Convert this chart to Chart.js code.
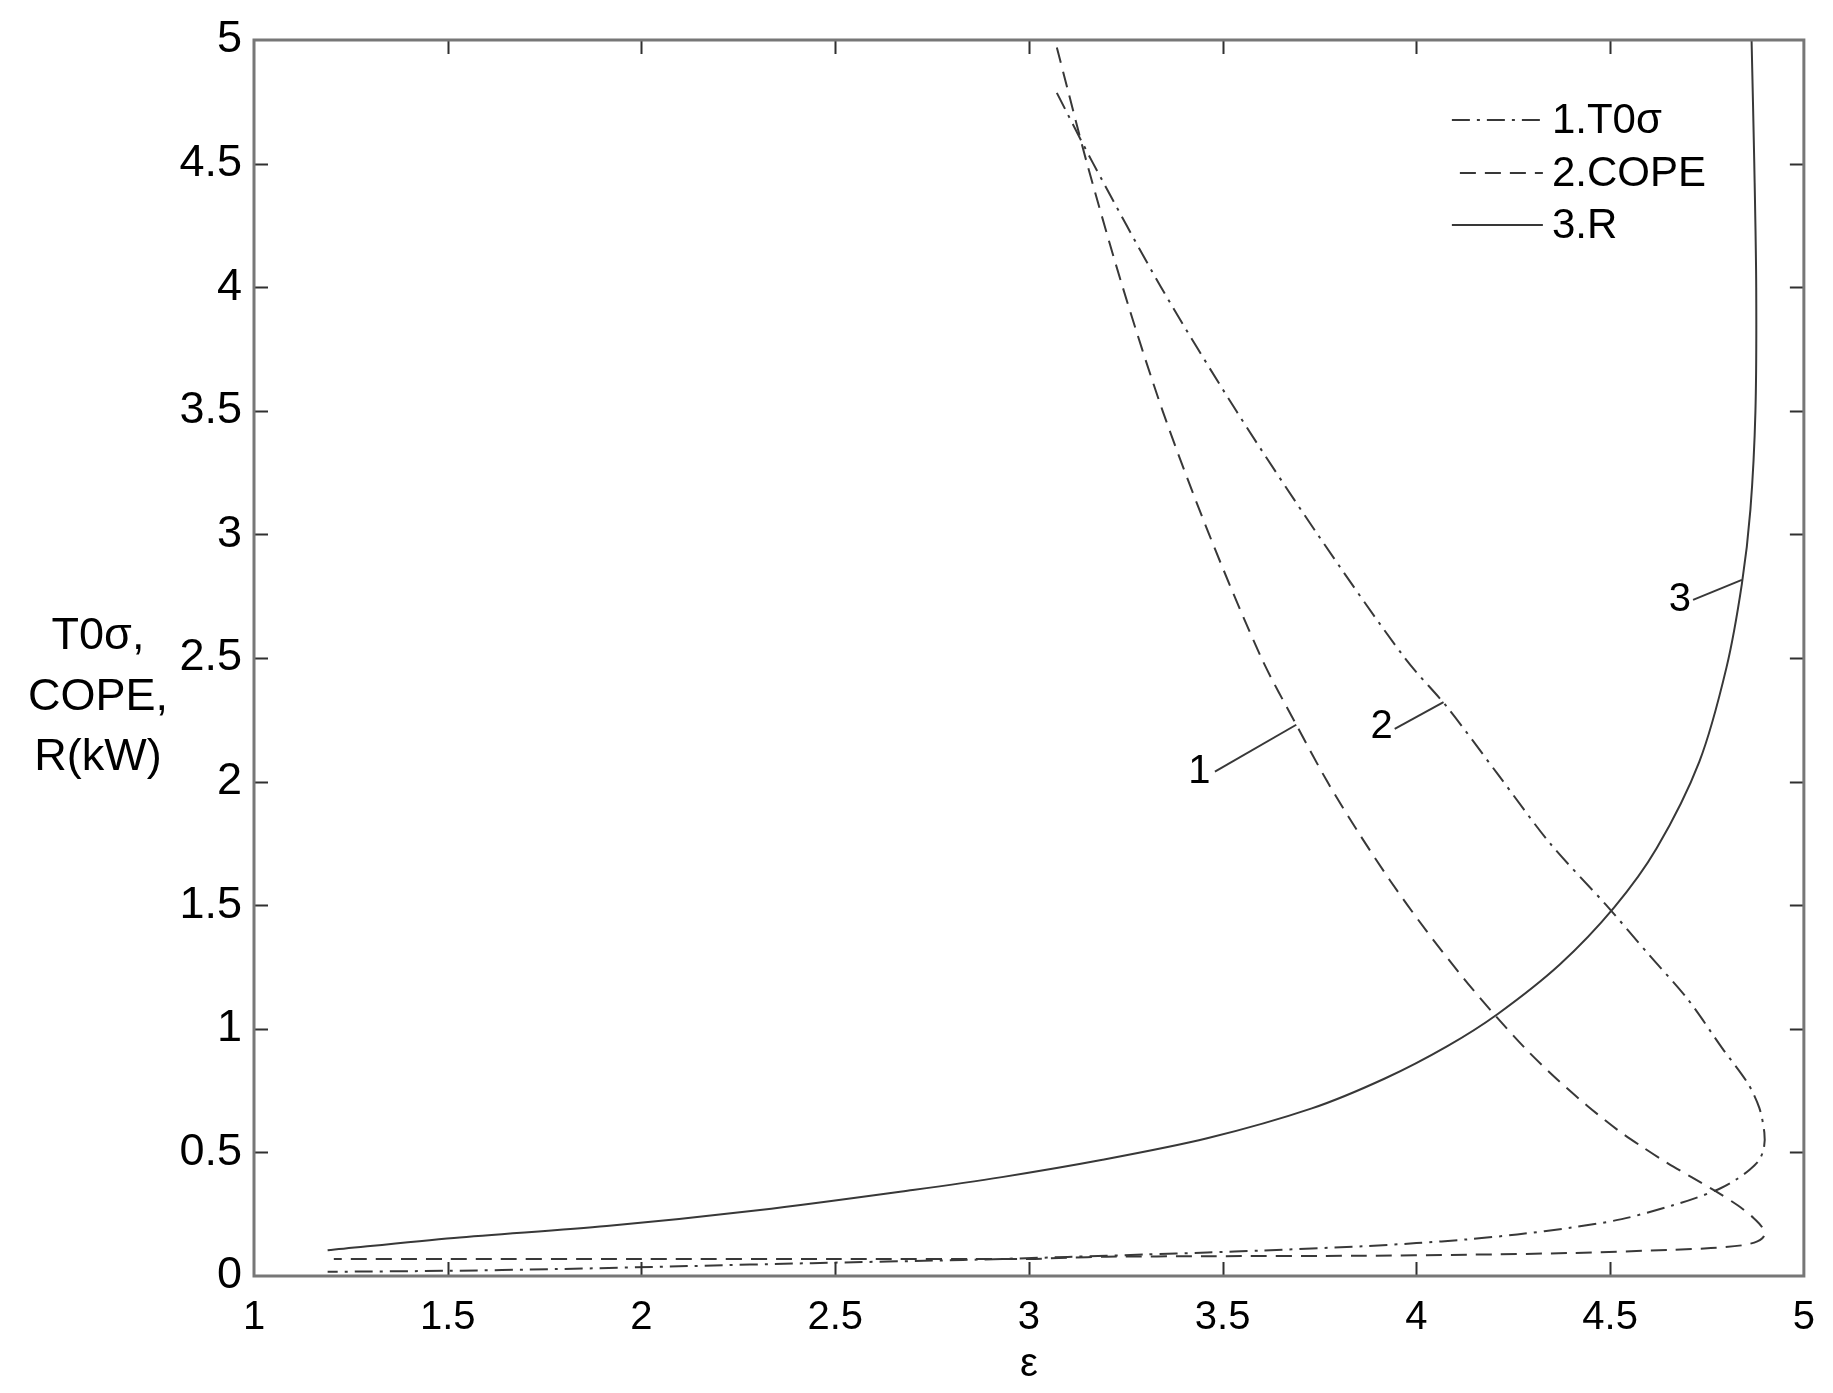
<!DOCTYPE html>
<html>
<head>
<meta charset="utf-8">
<script src="https://cdn.jsdelivr.net/npm/chart.js@4/dist/chart.umd.min.js"></script>
<style>
  html, body { margin: 0; padding: 0; background: #ffffff; }
  #wrap { width: 1833px; height: 1393px; position: relative; }
</style>
</head>
<body>
<div id="wrap"><canvas id="c" width="1833" height="1393"></canvas></div>
<script>
// ---------------- data ----------------
const xTickValues = [1, 1.5, 2, 2.5, 3, 3.5, 4, 4.5, 5];
const xTickLabels = ['1', '1.5', '2', '2.5', '3', '3.5', '4', '4.5', '5'];
const yTickValues = [0, 0.5, 1, 1.5, 2, 2.5, 3, 3.5, 4, 4.5, 5];
const yTickLabels = ['0', '0.5', '1', '1.5', '2', '2.5', '3', '3.5', '4', '4.5', '5'];

const seriesLabels = ['1.T0\u03c3', '2.COPE', '3.R'];

// 1.T0σ (dash-dot)
const t0sX = [3.072, 3.166, 3.341, 3.535, 3.745, 3.97, 4.08, 4.21, 4.345, 4.49, 4.60, 4.70, 4.79, 4.855, 4.885, 4.898, 4.897, 4.885, 4.86, 4.825, 4.785, 4.72, 4.66, 4.53, 4.40, 4.26, 4.13, 4.0, 3.86, 3.6, 3.46, 3.3, 3.1, 2.83, 2.44, 2.12, 1.78, 1.5, 1.19];
const t0sY = [4.786, 4.5, 4.0, 3.5, 3.0, 2.5, 2.30, 2.03, 1.75, 1.50, 1.30, 1.12, 0.92, 0.78, 0.68, 0.58, 0.52, 0.47, 0.43, 0.39, 0.355, 0.315, 0.285, 0.23, 0.196, 0.168, 0.148, 0.133, 0.12, 0.103, 0.095, 0.087, 0.077, 0.065, 0.052, 0.040, 0.028, 0.021, 0.017];

// 2.COPE (dashed)
const copeX = [3.072, 3.10, 3.150, 3.242, 3.345, 3.465, 3.60, 3.69, 3.77, 3.848, 3.932, 4.024, 4.124, 4.20, 4.285, 4.36, 4.44, 4.52, 4.59, 4.65, 4.71, 4.77, 4.83, 4.87, 4.893, 4.897, 4.88, 4.84, 4.76, 4.66, 4.40, 4.13, 3.86, 3.46, 3.2, 3.1, 3.0, 2.5, 2.0, 1.5, 1.206];
const copeY = [4.97, 4.80, 4.5, 4.0, 3.5, 3.0, 2.5, 2.23, 2.0, 1.8, 1.6, 1.4, 1.2, 1.06, 0.914, 0.80, 0.69, 0.59, 0.515, 0.455, 0.40, 0.345, 0.285, 0.235, 0.195, 0.162, 0.14, 0.124, 0.113, 0.106, 0.093, 0.086, 0.082, 0.080, 0.078, 0.074, 0.069, 0.069, 0.069, 0.069, 0.069];

// 3.R (solid)
const rX = [1.19, 1.516, 1.91, 2.306, 2.70, 2.93, 3.19, 3.46, 3.73, 3.92, 4.08, 4.21, 4.37, 4.51, 4.62, 4.73, 4.80, 4.84, 4.862, 4.875, 4.877, 4.872, 4.865];
const rY = [0.104, 0.154, 0.202, 0.267, 0.348, 0.40, 0.47, 0.557, 0.678, 0.80, 0.93, 1.06, 1.26, 1.49, 1.73, 2.08, 2.46, 2.80, 3.10, 3.50, 4.00, 4.50, 5.00];

// curve number labels and their leader lines
const noteTexts = ['1', '2', '3'];
const noteX = [3.44, 3.91, 4.68];
const noteY = [2.04, 2.22, 2.735];
const leader1X = [3.48, 3.69], leader1Y = [2.04, 2.23];
const leader2X = [3.944, 4.07], leader2Y = [2.213, 2.322];
const leader3X = [4.714, 4.84], leader3Y = [2.735, 2.816];

const yTitleLines = ['T0\u03c3,', 'COPE,', 'R(kW)'];
const xTitle = '\u03b5';

// ---------------- build ----------------
const pts = (xs, ys) => xs.map((v, i) => ({ x: v, y: ys[i] }));
const INK = '#383838';
const FONT = "'Liberation Sans', Arial, Helvetica, sans-serif";

const dashDot = [18, 7, 3, 7];
const dashed = [16, 9];

const curveBase = { showLine: true, pointRadius: 0, pointHoverRadius: 0, borderColor: INK, borderWidth: 2, fill: false, tension: 0.3 };

const datasets = [
  Object.assign({}, curveBase, { label: seriesLabels[0], data: pts(t0sX, t0sY), borderDash: dashDot }),
  Object.assign({}, curveBase, { label: seriesLabels[1], data: pts(copeX, copeY), borderDash: dashed }),
  Object.assign({}, curveBase, { label: seriesLabels[2], data: pts(rX, rY), borderDash: [] }),
  Object.assign({}, curveBase, { label: 'leader1', data: pts(leader1X, leader1Y), tension: 0 }),
  Object.assign({}, curveBase, { label: 'leader2', data: pts(leader2X, leader2Y), tension: 0 }),
  Object.assign({}, curveBase, { label: 'leader3', data: pts(leader3X, leader3Y), tension: 0 })
];

const framePlugin = {
  id: 'frame',
  afterDatasetsDraw(chart) {
    const { ctx, chartArea: a, scales } = chart;
    const xs = scales.x, ys = scales.y;
    const L = 14;
    ctx.save();
    ctx.strokeStyle = '#303030';
    ctx.lineWidth = 2;
    ctx.beginPath();
    xTickValues.forEach(v => {
      if (v === xs.min || v === xs.max) return;
      const p = Math.round(xs.getPixelForValue(v)) + 0.5;
      ctx.moveTo(p, a.bottom); ctx.lineTo(p, a.bottom - L);
      ctx.moveTo(p, a.top); ctx.lineTo(p, a.top + L);
    });
    yTickValues.forEach(v => {
      if (v === ys.min || v === ys.max) return;
      const p = Math.round(ys.getPixelForValue(v)) + 0.5;
      ctx.moveTo(a.left, p); ctx.lineTo(a.left + L, p);
      ctx.moveTo(a.right, p); ctx.lineTo(a.right - L, p);
    });
    ctx.stroke();
    ctx.strokeStyle = '#777777';
    ctx.lineWidth = 3;
    ctx.strokeRect(a.left, a.top, a.right - a.left, a.bottom - a.top);
    ctx.restore();
  }
};

const notesPlugin = {
  id: 'notes',
  afterDatasetsDraw(chart) {
    const { ctx, scales } = chart;
    ctx.save();
    ctx.fillStyle = '#000';
    ctx.font = '40px ' + FONT;
    ctx.textAlign = 'center';
    ctx.textBaseline = 'middle';
    noteTexts.forEach((t, i) => {
      ctx.fillText(t, scales.x.getPixelForValue(noteX[i]), scales.y.getPixelForValue(noteY[i]));
    });
    ctx.restore();
  }
};

const legendPlugin = {
  id: 'innerLegend',
  afterDatasetsDraw(chart) {
    const { ctx, chartArea: a } = chart;
    const rows = [
      { y: a.top + 80, x0: a.right - 352, dash: dashDot },
      { y: a.top + 133, x0: a.right - 344, dash: dashed },
      { y: a.top + 185, x0: a.right - 352, dash: [] }
    ];
    ctx.save();
    rows.forEach((r, i) => {
      ctx.strokeStyle = INK;
      ctx.lineWidth = 2;
      ctx.setLineDash(r.dash);
      ctx.beginPath();
      ctx.moveTo(r.x0, r.y);
      ctx.lineTo(a.right - 261, r.y);
      ctx.stroke();
      ctx.setLineDash([]);
      ctx.fillStyle = '#000';
      ctx.font = '42px ' + FONT;
      ctx.textAlign = 'left';
      ctx.textBaseline = 'middle';
      ctx.fillText(seriesLabels[i], a.right - 252, r.y + 1);
    });
    ctx.restore();
  }
};

const yTitlePlugin = {
  id: 'yTitle',
  afterDraw(chart) {
    const { ctx } = chart;
    ctx.save();
    ctx.fillStyle = '#000';
    ctx.font = '45px ' + FONT;
    ctx.textAlign = 'center';
    ctx.textBaseline = 'middle';
    const cy = [637, 698, 758];
    yTitleLines.forEach((t, i) => ctx.fillText(t, 98, cy[i]));
    ctx.restore();
  }
};

new Chart(document.getElementById('c'), {
  type: 'scatter',
  data: { datasets },
  options: {
    responsive: false,
    animation: false,
    events: [],
    layout: { padding: { left: 0, top: 40, right: 29, bottom: 0 } },
    plugins: { legend: { display: false }, tooltip: { enabled: false } },
    scales: {
      x: {
        type: 'linear', min: 1, max: 5,
        afterBuildTicks: s => { s.ticks = xTickValues.map(v => ({ value: v })); },
        afterFit: s => { s.height = 117; },
        grid: { display: false, drawTicks: false },
        border: { display: false },
        ticks: {
          color: '#000', font: { family: FONT, size: 40 }, padding: 18, maxRotation: 0, autoSkip: false,
          callback: (v, i) => xTickLabels[i]
        },
        title: { display: true, text: xTitle, color: '#000', font: { family: FONT, size: 40 }, padding: { top: 0, bottom: 4 } }
      },
      y: {
        type: 'linear', min: 0, max: 5,
        afterBuildTicks: s => { s.ticks = yTickValues.map(v => ({ value: v })); },
        afterFit: s => { s.width = 254; },
        grid: { display: false, drawTicks: false },
        border: { display: false },
        ticks: {
          color: '#000', font: { family: FONT, size: 45 }, padding: 12, autoSkip: false,
          callback: (v, i) => yTickLabels[i]
        }
      }
    }
  },
  plugins: [framePlugin, notesPlugin, legendPlugin, yTitlePlugin]
});
</script>
</body>
</html>
